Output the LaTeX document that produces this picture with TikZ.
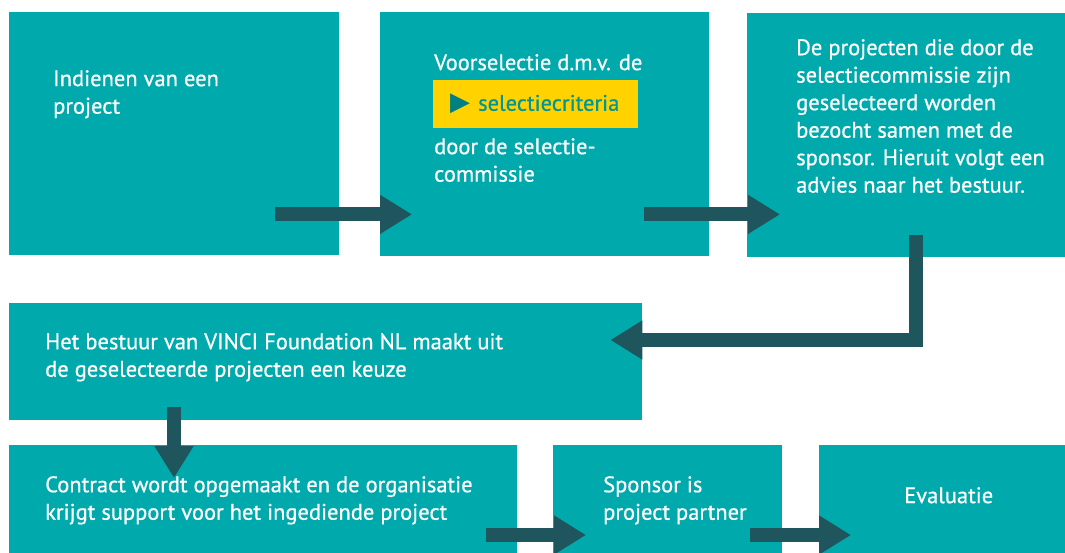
\documentclass[tikz,border=0pt]{standalone}
\usepackage{fontspec}
\setmainfont{PT Sans}[FakeBold=0.6]
\newfontfamily\symbfont{DejaVu Sans}
\usepackage{tikz}
\usetikzlibrary{arrows.meta, calc, positioning}

\definecolor{vinciteal}{RGB}{0,170,172}
\definecolor{pijlkleur}{RGB}{31,86,94}
\definecolor{geel}{RGB}{255,210,0}
\definecolor{geeltekst}{RGB}{0,150,150}
\definecolor{geelpijl}{RGB}{0,128,128}

\tikzset{
    blok/.style={fill=vinciteal, draw=none, anchor=north west, inner sep=0pt},
    tekst/.style={text=white, anchor=north west, align=left, inner sep=0pt, font=\fontsize{22.5}{27.5}\selectfont},
    pijl/.style={draw=pijlkleur, line width=14pt, line join=miter, -{Triangle[length=32pt,width=37pt]}}
}

\begin{document}
\begin{tikzpicture}[x=1pt,y=-1pt]
    							\useasboundingbox (0,0) rectangle (1065,552);
    							\clip (0,0) rectangle (1065,552);

							    \node[blok, minimum width=330pt, minimum height=243pt] (indienen) at (9,12) {};
							    \node[blok, minimum width=329pt, minimum height=244pt] (voorselectie) at (380,12) {};
							    \node[blok, minimum width=330pt, minimum height=244pt] (bezoek) at (747,13) {};
							    \node[blok, minimum width=633pt, minimum height=117pt] (bestuur) at (9,303) {};
							    \node[blok, minimum width=508pt, minimum height=120pt] (contract) at (9,445) {};
							    \node[blok, minimum width=229pt, minimum height=120pt] (sponsor) at (553,445) {};
							    \node[blok, minimum width=260pt, minimum height=120pt] (evaluatie) at (819,445) {};

							    \node[tekst] (indienentekst) at (53,70) {Indienen van een\\project};
							    \node[tekst] (voorselectietekst) at (434,54) {Voorselectie d.m.v. de};
							    \node[blok, fill=geel, minimum width=205pt, minimum height=48pt] (criteria) at (433,80) {};
							    \node[anchor=west, inner sep=0pt, font=\fontsize{22.5}{27.5}\selectfont] (criteriatekst) at (450,104) {{\symbfont\color{geelpijl}\fontsize{26}{26}\selectfont ▶}\hspace{8pt}\textcolor{geeltekst}{selectiecriteria}};
							    \node[tekst] (commissietekst) at (434,138) {door de selectie-\\commissie};
							    \node[tekst] (bezoektekst) at (796,39) {De projecten die door de\\selectiecommissie zijn\\geselecteerd worden\\bezocht samen met de\\sponsor. Hieruit volgt een\\advies naar het bestuur.};
							    \node[tekst] (bestuurtekst) at (45,333) {Het bestuur van VINCI Foundation NL maakt uit\\de geselecteerde projecten een keuze};
							    \node[tekst] (contracttekst) at (45,476) {Contract wordt opgemaakt en de organisatie\\krijgt support voor het ingediende project};
							    \node[tekst] (sponsortekst) at (603,476) {Sponsor is\\project partner};
							    \node[tekst] (evaluatietekst) at (904,487) {Evaluatie};

							    \draw[pijl] ($(indienen.south east)+(-64,-41)$) -- ($(voorselectie.south west)+(32,-42)$);
							    \draw[pijl] ($(voorselectie.south east)+(-65,-42)$) -- ($(bezoek.south west)+(33,-43)$);
							    \draw[pijl] ($(bezoek.south west)+(169,-22)$) |- ($(bestuur.north east)+(-32,37)$);
							    \draw[pijl] ($(bestuur.south west)+(165,-13)$) -- ($(contract.north west)+(165,33)$);
							    \draw[pijl] ($(contract.north east)+(-31,90)$) -- ($(sponsor.north west)+(33,90)$);
							    \draw[pijl] ($(sponsor.north east)+(-32,90)$) -- ($(evaluatie.north west)+(32,90)$);
						  \end{tikzpicture}
\end{document}
